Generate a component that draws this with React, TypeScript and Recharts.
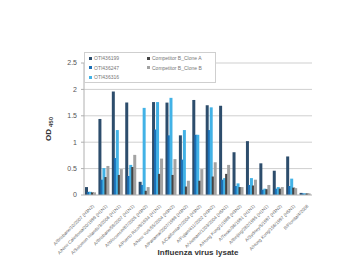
import { BarChart, Bar, XAxis, YAxis, CartesianGrid, Legend, Label } from "recharts"

const strains = [
  "A/Brisbane/10/2007 (H3N2)",
  "A/New Caledonia/20/1999 (H1N1)",
  "A/Solomon Islands/3/2006 (H1N1)",
  "A/Brisbane/59/2007 (H1N1)",
  "A/Wisconsin/67/2005 (H3N2)",
  "A/Puerto Rico/8/1934 (H1N1)",
  "A/New York/55/2004 (H3N2)",
  "A/Panama/2007/1999 (H3N2)",
  "A/California/7/2004 (H3N2)",
  "A/Fujian/411/2002 (H3N2)",
  "A/Vietnam/1203/2004 (H5N1)",
  "A/Hong Kong/1/1968 (H3N2)",
  "A/Texas/36/1991 (H1N1)",
  "A/Beijing/262/1995 (H1N1)",
  "A/Sydney/5/1997 (H3N2)",
  "A/Hong Kong/156/1997 (H5N1)",
  "B/Florida/4/2006",
]

const oti199 = [0.15, 1.44, 1.96, 1.75, 0.25, 1.76, 1.75, 1.13, 1.8, 1.7, 1.69, 0.81, 1.02, 0.6, 0.46, 0.73, 0.04]
const oti247 = [0.06, 0.29, 0.7, 0.36, 0.19, 1.24, 1.13, 0.67, 1.14, 1.23, 0.29, 0.17, 0.19, 0.1, 0.12, 0.17, 0.03]
const oti316 = [0.06, 0.51, 1.23, 0.57, 1.65, 1.76, 1.84, 1.23, 1.14, 1.66, 0.32, 0.22, 0.32, 0.12, 0.15, 0.31, 0.03]
const cloneA = [0.05, 0.34, 0.38, 0.53, 0.08, 0.4, 0.38, 0.16, 0.27, 0.35, 0.4, 0.15, 0.18, 0.11, 0.12, 0.14, 0.03]
const cloneB = [0.05, 0.55, 0.49, 0.76, 0.15, 0.69, 0.68, 0.27, 0.49, 0.62, 0.57, 0.15, 0.29, 0.19, 0.15, 0.13, 0.03]

const yTicks = [0, 0.5, 1, 1.5, 2, 2.5]
const gridLines = [0.25, 0.5, 0.75, 1, 1.25, 1.5, 1.75, 2, 2.25, 2.5]

const series = [
  { key: "oti199", name: "OTI436199", color: "#2d4d6c" },
  { key: "oti247", name: "OTI436247", color: "#1b6fb6" },
  { key: "oti316", name: "OTI436316", color: "#42b2e6" },
  { key: "cloneA", name: "Competitor B_Clone A", color: "#444444" },
  { key: "cloneB", name: "Competitor B_Clone B", color: "#a3a3a3" },
]

const data = strains.map((name, i) => ({
  name,
  oti199: oti199[i],
  oti247: oti247[i],
  oti316: oti316[i],
  cloneA: cloneA[i],
  cloneB: cloneB[i],
}))

const font = "'Liberation Sans', Arial, sans-serif"

const StrainTick = ({ x, y, payload }: any) => (
  <g transform={`translate(${x},${y})`}>
    <text x={0} y={0} dy={5} textAnchor="end" transform="rotate(-45)" fontSize={4.5} fill="#666" fontFamily={font}>
      {payload.value}
    </text>
  </g>
)

const ChartLegend = () => (
  <div
    style={{
      background: "#fff",
      border: "1px solid #cfcfcf",
      boxSizing: "border-box",
      width: 132,
      height: 31,
      position: "relative",
      fontFamily: font,
      fontSize: 5,
      color: "#777",
    }}
  >
    {series.map((s, i) => {
      const col = i < 3 ? 0 : 1
      const row = i < 3 ? i : i - 3
      return (
        <div
          key={s.key}
          style={{ position: "absolute", left: col ? 62 : 4, top: 2 + row * 9.5, display: "flex", alignItems: "center", gap: 2, whiteSpace: "nowrap" }}
        >
          <span style={{ width: 3, height: 3, background: s.color, display: "inline-block" }} />
          <span>{s.name}</span>
        </div>
      )
    })}
  </div>
)

const YTitle = () => (
  <text transform="translate(51,129) rotate(-90)" textAnchor="middle" fontFamily={font} fontWeight="bold" fill="#333" fontSize={8}>
    OD
    <tspan fontSize={6} dx={2} dy={2}>450</tspan>
  </text>
)

export default function App() {
  return (
    <div style={{ margin: -8, width: 362, height: 280, background: "#fff" }}>
      <BarChart
        width={362}
        height={280}
        data={data}
        margin={{ top: 63, right: 50, left: 20, bottom: 15 }}
        barSize={3}
        barGap={-1}
      >
        <CartesianGrid vertical={false} stroke="#cfcfcf" horizontalValues={gridLines} />
        <XAxis
          dataKey="name"
          interval={0}
          height={70}
          tick={<StrainTick />}
          tickLine={false}
          axisLine={{ stroke: "#b0b0b0" }}
        >
          <Label value="Influenza virus lysate" position="insideBottom" offset={10} fontSize={8} fontWeight="bold" fill="#333" fontFamily={font} />
        </XAxis>
        <YAxis
          width={64}
          domain={[0, 2.5]}
          ticks={yTicks}
          tickSize={3}
          tickMargin={4}
          tick={{ fontSize: 7, fill: "#555", fontFamily: font }}
          axisLine={{ stroke: "#b0b0b0" }}
          tickLine={{ stroke: "#b0b0b0" }}
        >
          <Label content={<YTitle />} />
        </YAxis>
        <Legend
          layout="horizontal"
          verticalAlign="middle"
          align="center"
          content={<ChartLegend />}
          wrapperStyle={{ left: 84, top: 52, width: 132, height: 31 }}
        />
        {series.map((s) => (
          <Bar key={s.key} dataKey={s.key} name={s.name} fill={s.color} isAnimationActive={false} />
        ))}
      </BarChart>
    </div>
  )
}
